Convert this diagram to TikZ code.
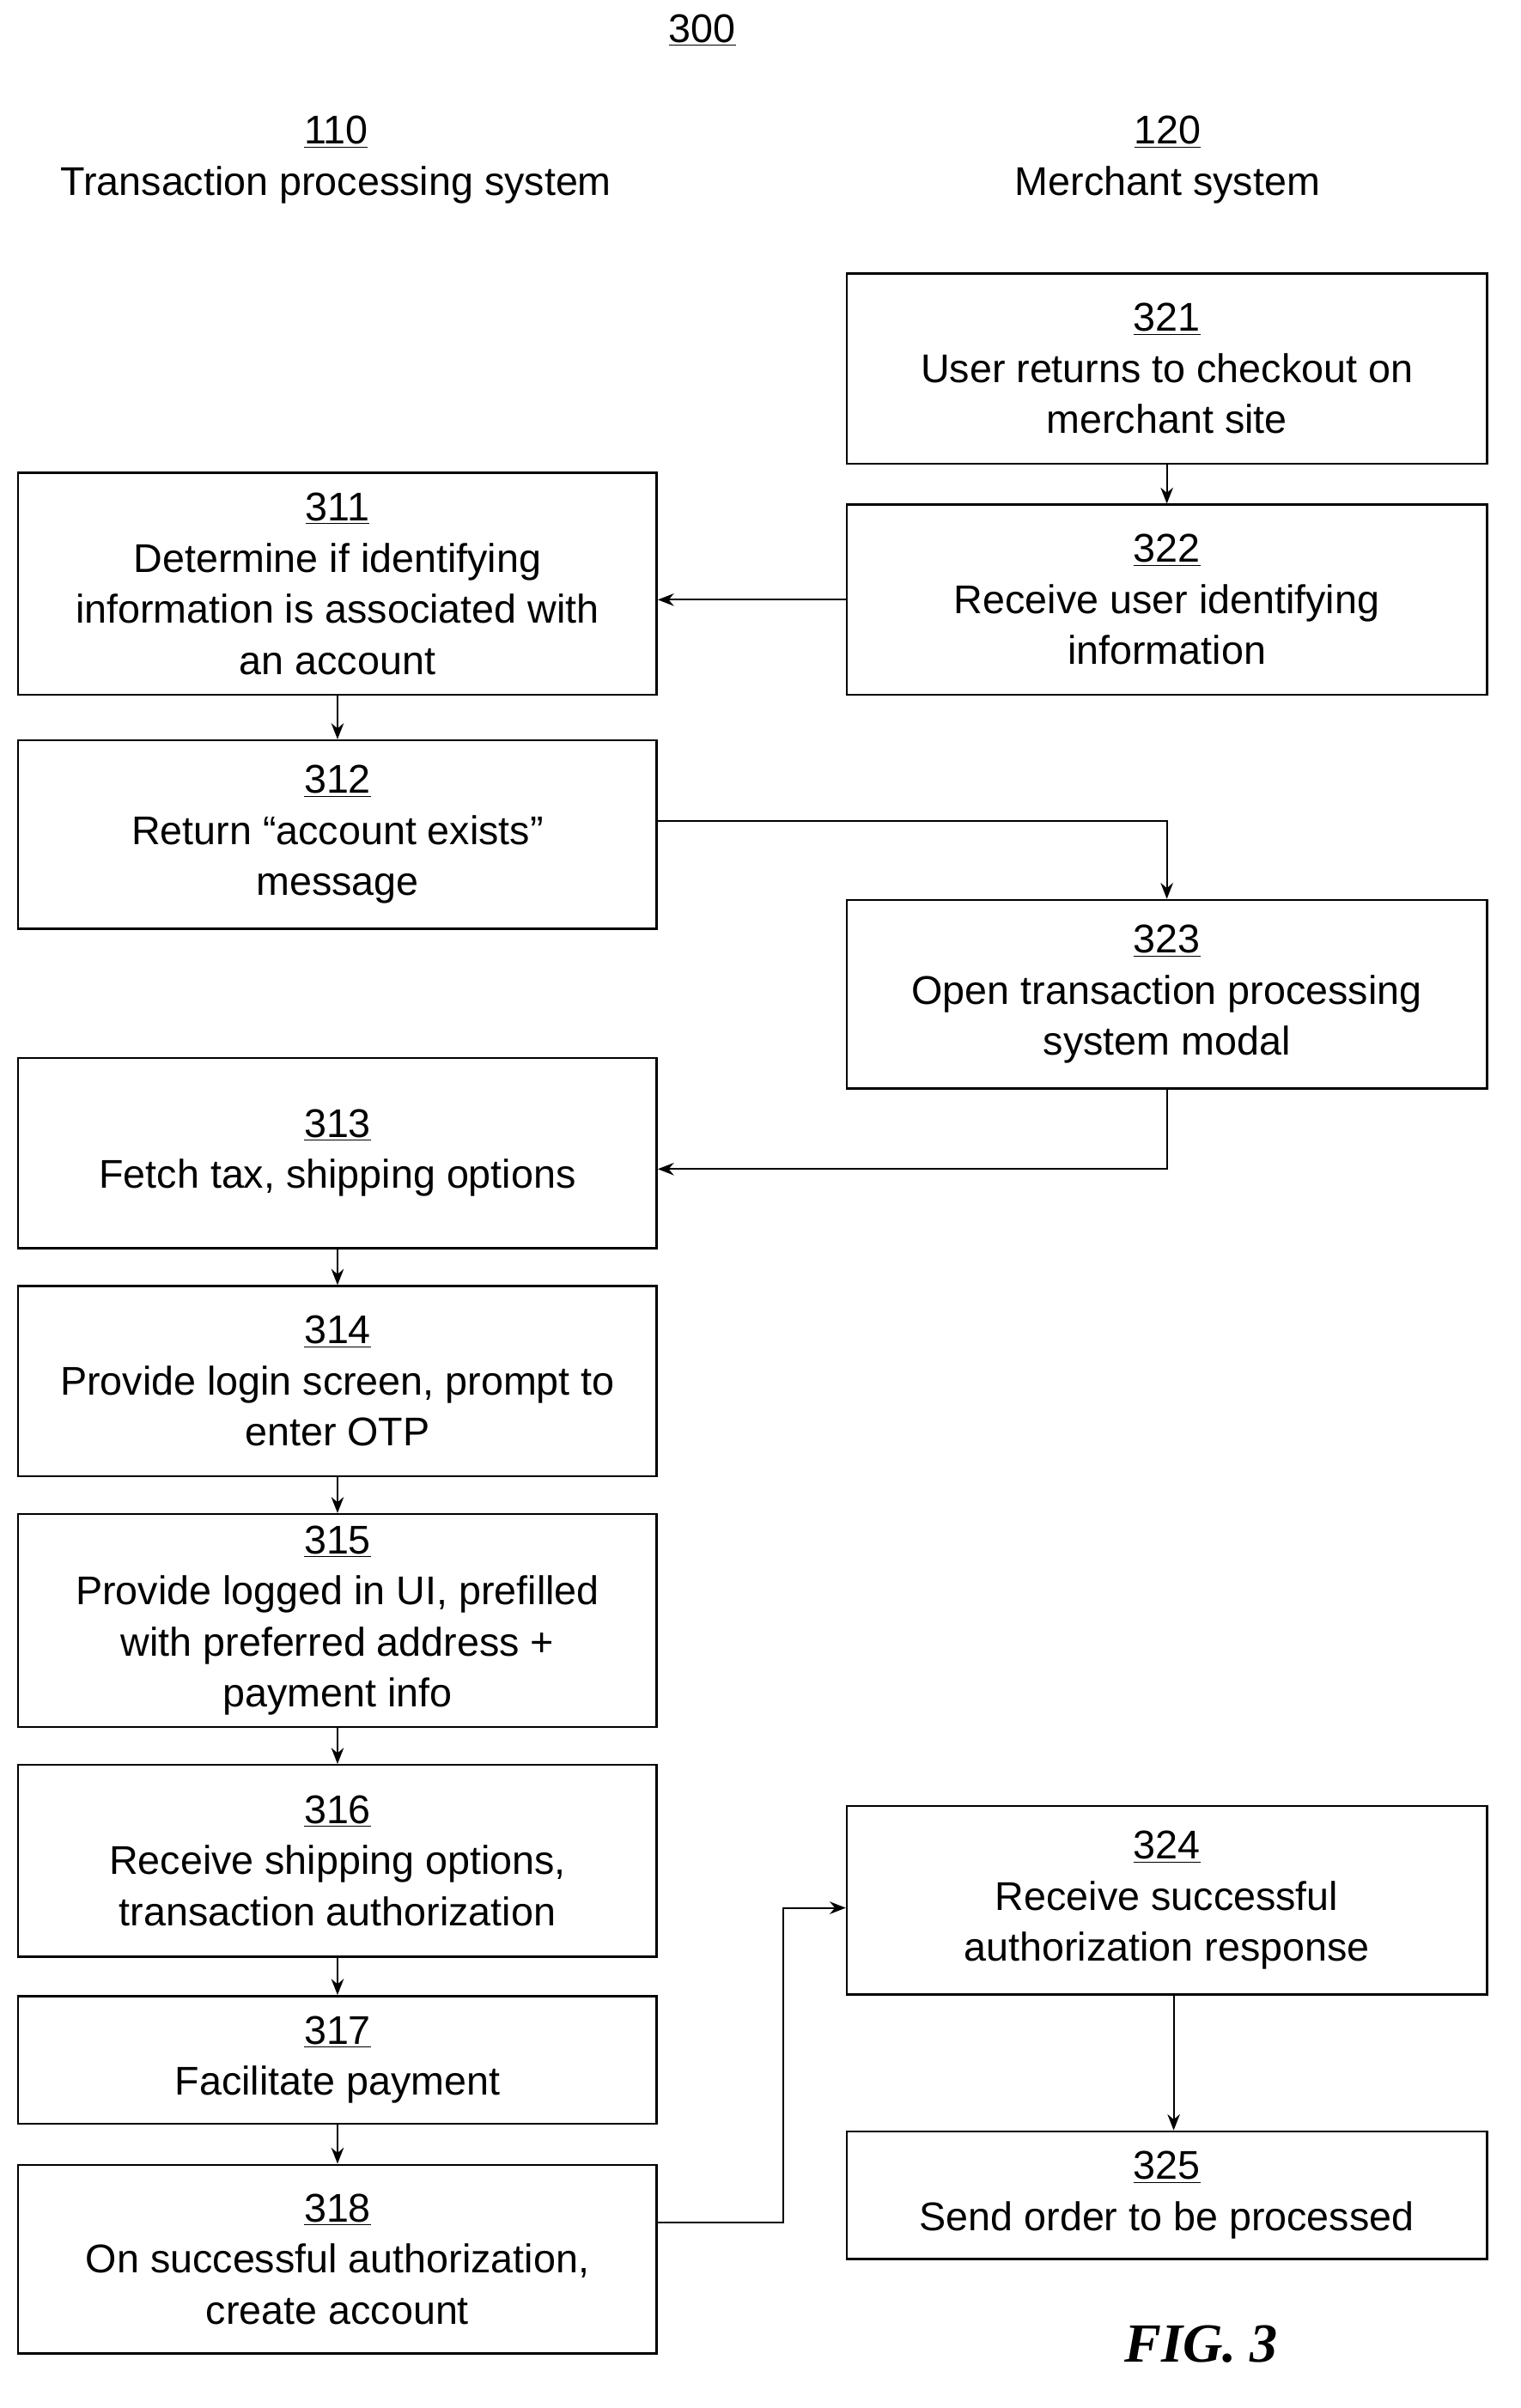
\documentclass[tikz,border=0pt]{standalone}
\usepackage{fontspec}
\setmainfont{Liberation Sans}
\newfontfamily\figfont{Liberation Serif}
\usetikzlibrary{arrows.meta}
\begin{document}
\begin{tikzpicture}[x=0.03cm,y=-0.03cm,
  box/.style={draw,line width=1.2pt,align=center,inner sep=0pt,font=\fontsize{22.5}{28.7}\selectfont},
  lbl/.style={align=center,font=\fontsize{22.5}{28.7}\selectfont},
  arr/.style={-{Stealth[length=9pt,width=7pt]},line width=1pt}]
\useasboundingbox (0,0) rectangle (1000,1584);
\newcommand{\bx}[6]{\node[box,minimum width={(#4-#2)*0.03cm},minimum height={(#5-#3)*0.03cm}] (#1) at ({(#2+#4)/2},{(#3+#5)/2}) {#6};}
\node[lbl] (h300) at (462,20) {\underline{300}};
\node[lbl] (h110) at (221,105) {\underline{110}\\Transaction processing system};
\node[lbl] (h120) at (768,105) {\underline{120}\\Merchant system};
\bx{b321}{557}{180}{978}{305}{\underline{321}\\User returns to checkout on\\merchant site}
\bx{b322}{557}{332}{978}{457}{\underline{322}\\Receive user identifying\\information}
\bx{b311}{12}{311}{432}{457}{\underline{311}\\Determine if identifying\\information is associated with\\an account}
\bx{b312}{12}{487}{432}{611}{\underline{312}\\Return “account exists”\\message}
\bx{b323}{557}{592}{978}{716}{\underline{323}\\Open transaction processing\\system modal}
\bx{b313}{12}{696}{432}{821}{\underline{313}\\Fetch tax, shipping options}
\bx{b314}{12}{846}{432}{971}{\underline{314}\\Provide login screen, prompt to\\enter OTP}
\bx{b315}{12}{996}{432}{1136}{\underline{315}\\Provide logged in UI, prefilled\\with preferred address +\\payment info}
\bx{b316}{12}{1161}{432}{1287}{\underline{316}\\Receive shipping options,\\transaction authorization}
\bx{b317}{12}{1313}{432}{1397}{\underline{317}\\Facilitate payment}
\bx{b318}{12}{1424}{432}{1548}{\underline{318}\\On successful authorization,\\create account}
\bx{b324}{557}{1188}{978}{1312}{\underline{324}\\Receive successful\\authorization response}
\bx{b325}{557}{1402}{978}{1486}{\underline{325}\\Send order to be processed}
\node[font=\figfont\bfseries\itshape\fontsize{31}{36}\selectfont] (fig) at (790,1542) {FIG. 3};
\draw[arr] (b321) -- (b322);
\draw[arr] (b322.west) -- (b311.east |- b322.west);
\draw[arr] (b311) -- (b312);
\draw[arr] (b312.east |- 0,540) -| (b323.north);
\draw[arr] (b323.south) |- (b313.east |- 0,769);
\draw[arr] (b313) -- (b314);
\draw[arr] (b314) -- (b315);
\draw[arr] (b315) -- (b316);
\draw[arr] (b316) -- (b317);
\draw[arr] (b317) -- (b318);
\coordinate (m) at (515,1462);
\draw[arr] (b318.east |- m) -- (m) |- (b324.west |- 0,1255);
\draw[arr] (b324.south -| 772,0) -- (b325.north -| 772,0);
\end{tikzpicture}
\end{document}
